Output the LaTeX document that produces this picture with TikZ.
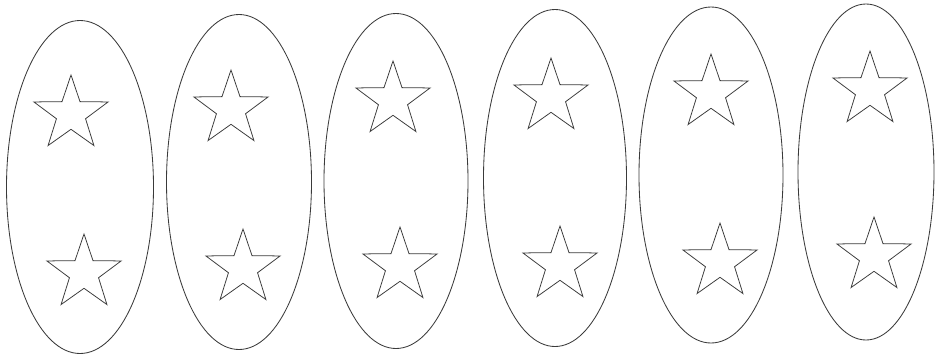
\documentclass[tikz,border=0pt]{standalone}
\usepackage{tikz}
\usetikzlibrary{shapes.geometric}
\definecolor{PencilGray}{HTML}{3A3A3A}

\begin{document}
\begin{tikzpicture}[x=0.025cm,y=-0.025cm]
    \tikzset{pod/.style={ellipse,draw=PencilGray,line width=0.6pt,inner sep=0pt,minimum width=#1*0.025cm},
      starmark/.style={star,star points=5,star point ratio=2.55,draw=PencilGray,line width=0.55pt,
      inner sep=0pt,minimum size=1.95cm}}
    \useasboundingbox (0,0) rectangle (936,357);
    \foreach \i/\cx/\cy/\w/\h/\ax/\ay/\bx/\by in {
      1/80/187/147/333/71/114/84/273,
      2/239/182/145/335/231/109/243/268,
      3/396/181/144/335/393/100/400/266,
      4/555/178/143/337/551/97/560/265,
      5/711/175/144/336/711/93/720/262,
      6/866/172/136/336/870/90/874/256}{
      \node[pod=\w,minimum height=\h*0.025cm] (e\i) at (\cx,\cy) {};
      \node[starmark] (s\i a) at (\ax,\ay) {};
      \node[starmark] (s\i b) at (\bx,\by) {};
    }
  \end{tikzpicture}
\end{document}
